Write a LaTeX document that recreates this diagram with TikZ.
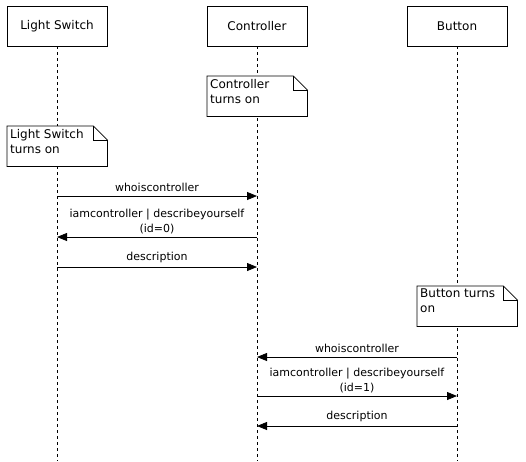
\documentclass[tikz,border=0pt]{standalone}
\usepackage{fontspec}
\setmainfont{DejaVu Sans}
\usetikzlibrary{arrows.meta}
\begin{document}
\begin{tikzpicture}[x=1pt,y=-1pt,
  font=\fontsize{11}{14.5}\selectfont,
  actor/.style={draw=black, line width=0.8pt, minimum width=100pt, minimum height=40pt, inner sep=0pt, font=\fontsize{12}{15}\selectfont},
  lifeline/.style={line width=0.8pt, dash pattern=on 3pt off 3pt},
  notetext/.style={minimum width=100pt, minimum height=40pt, inner sep=0pt, anchor=north west},
  notebox/.style={draw=black, line width=0.8pt},
  msg/.style={line width=0.8pt, -{Triangle[length=10pt,width=8pt]}},
  lbl/.style={align=center, inner sep=0pt, font=\fontsize{11}{14.5}\selectfont}]
\useasboundingbox (0,0) rectangle (526,461);
\fill[white] (0,0) rectangle (526,461);

% actors
\node[actor] (ls) at (57,26) {Light Switch};
\node[actor] (ct) at (257,26) {Controller};
\node[actor] (bt) at (457,26) {Button};

% lifeline ends
\coordinate (lsend) at (57,461);
\coordinate (ctend) at (257,461);
\coordinate (btend) at (457,461);
\draw[lifeline] (ls.south) -- (lsend);
\draw[lifeline] (ct.south) -- (ctend);
\draw[lifeline] (bt.south) -- (btend);

% notes
\foreach \nm/\px/\py/\txt in {ncon/207/76/{Controller\\turns on}, nls/7/126/{Light Switch\\turns on}, nbt/417/286/{Button turns\\on}}{
  \node[notetext] (\nm) at (\px,\py) {};
  \fill[white] (\nm.north west) -- ([xshift=-14pt]\nm.north east) -- ([yshift=-14pt]\nm.north east) -- (\nm.south east) -- (\nm.south west) -- cycle;
  \draw[notebox] (\nm.north west) -- ([xshift=-14pt]\nm.north east) -- ([yshift=-14pt]\nm.north east) -- (\nm.south east) -- (\nm.south west) -- cycle;
  \draw[notebox] ([xshift=-14pt]\nm.north east) |- ([yshift=-14pt]\nm.north east);
  \node[anchor=north west, align=left, inner sep=0pt, font=\fontsize{12}{15}\selectfont] (\nm txt) at ([xshift=3pt,yshift=-3pt]\nm.north west) {\txt};
}

% message points
\coordinate (m1a) at (57,196);  \coordinate (m1b) at (257,196);
\coordinate (m2a) at (257,237); \coordinate (m2b) at (57,237);
\coordinate (m3a) at (57,267);  \coordinate (m3b) at (257,267);
\coordinate (m4a) at (457,357); \coordinate (m4b) at (257,357);
\coordinate (m5a) at (257,396); \coordinate (m5b) at (457,396);
\coordinate (m6a) at (457,426); \coordinate (m6b) at (257,426);

\draw[msg] (m1a) -- node[lbl, above=4pt] (l1) {whoiscontroller} (m1b);
\draw[msg] (m2a) -- node[lbl, above=3pt] (l2) {iamcontroller | describeyourself\\(id=0)} (m2b);
\draw[msg] (m3a) -- node[lbl, above=4pt] (l3) {description} (m3b);
\draw[msg] (m4a) -- node[lbl, above=4pt] (l4) {whoiscontroller} (m4b);
\draw[msg] (m5a) -- node[lbl, above=3pt] (l5) {iamcontroller | describeyourself\\(id=1)} (m5b);
\draw[msg] (m6a) -- node[lbl, above=4pt] (l6) {description} (m6b);
\end{tikzpicture}
\end{document}
